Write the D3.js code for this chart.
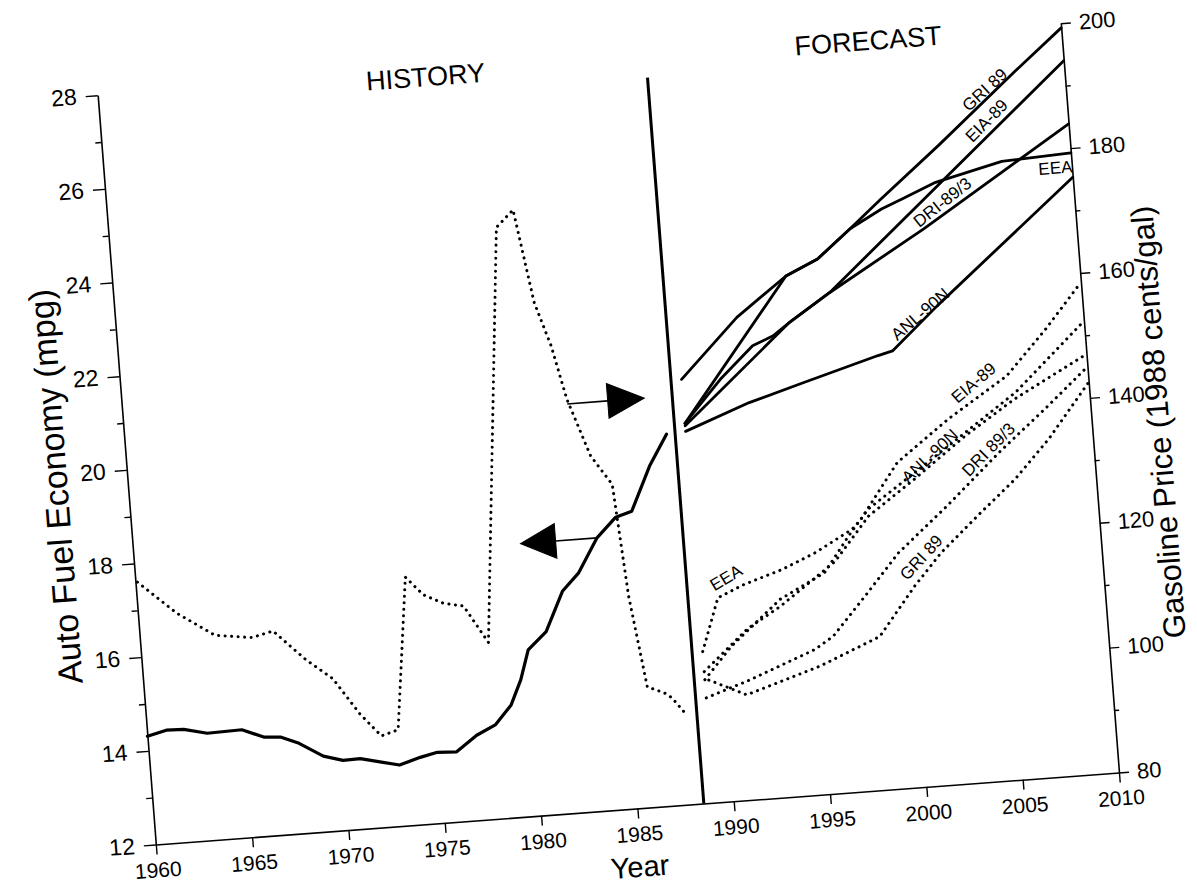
<!DOCTYPE html>
<html>
<head>
<meta charset="utf-8">
<script src="https://cdn.jsdelivr.net/npm/d3@7"></script>
<style>
  body { margin: 0; background: #fff; }
  svg text { font-family: "Liberation Sans", Arial, Helvetica, sans-serif; fill: #000; }
</style>
</head>
<body>
<svg id="chart" width="1197" height="884"></svg>
<script>
// ---------------------------------------------------------------
// DATA
// ---------------------------------------------------------------
const leftTicks  = [12, 14, 16, 18, 20, 22, 24, 26, 28];
const leftMinor  = [13, 15, 17, 19, 21, 23, 25, 27];
const rightTicks = [80, 100, 120, 140, 160, 180, 200];
const rightMinor = [90, 110, 130, 150, 170, 190];
const yearTicks  = [1960, 1965, 1970, 1975, 1980, 1985, 1990, 1995, 2000, 2005, 2010];

// history: auto fuel economy (mpg, left axis)
const historyMpg = [[1960,14.31],[1961,14.41],[1961.9,14.40],[1963.1,14.28],[1964.9,14.30],
  [1966,14.11],[1966.9,14.08],[1967.8,13.92],[1969,13.61],[1970,13.49],[1970.9,13.50],
  [1971.9,13.40],[1972.9,13.30],[1974,13.43],[1974.9,13.51],[1975.9,13.49],[1977,13.81],
  [1978,14.00],[1978.9,14.40],[1979.5,14.92],[1980,15.54],[1981,15.90],[1982,16.73],
  [1982.9,17.09],[1984,17.81],[1985.05,18.22],[1985.9,18.32],[1987,19.25],[1988,19.90]];

// history: gasoline price (1988 cents/gal, right axis)
const historyPrice = [[1960.1,122.0],[1962,116.6],[1963.9,112.6],[1965.8,111.8],[1966.9,112.6],
  [1968.5,107.6],[1969.8,104.3],[1971.05,98.4],[1972.08,94.6],[1972.97,95.4],[1973.95,119.6],
  [1974.8,116.6],[1975.8,115.0],[1976.84,114.3],[1977.98,108.2],[1980.05,174.2],[1980.98,176.8],
  [1981.7,161.8],[1982.4,154.7],[1983,146.0],[1984,136.7],[1985,131.9],[1985.4,113.9],
  [1985.9,101.7],[1986,99.2],[1986.34,98.8],[1986.9,98.0],[1987.23,97.2],[1987.78,94.9]];

// forecasts: fuel economy (mpg)
const gri89Mpg = [[1989,21.04],[1992.1,22.27],[1994.8,23.07],[1996.5,23.38],[1998.3,23.97],
  [2000,24.55],[2003.2,25.6],[2007.5,27.07],[2010,27.9]];
const eia89Mpg = [[1989,20.05],[1994.8,22.08],[1997,22.65],[2010,27.2]];
const dri89Mpg = [[1989,20.1],[1991,20.98],[1992.8,21.64],[1993.9,21.82],[1994.8,22.08],
  [1997,22.65],[2002.1,23.85],[2010,25.85]];
const eeaMpg = [[1989,20.1],[1994.8,23.07],[1996.5,23.38],[1998.3,23.97],[2000,24.34],
  [2001.1,24.52],[2002.9,24.82],[2006.4,25.16],[2010,25.23]];
const anlMpg = [[1989,19.93],[1992.4,20.44],[1995.3,20.78],[1999.2,21.23],[2000,21.31],
  [2002.5,22.2],[2010,24.71]];

// forecasts: gasoline price (cents/gal)
const eeaPrice = [[1989,104.2],[1990,112.6],[1991.4,114.4],[1993.4,116.3],[1995.2,118.6],
  [1997.2,121.9],[1997.7,123.4],[1999.8,132],[2002.6,138.3],[2005.8,144.5],[2008,151.5],[2010,158.5]];
const eiaPrice = [[1989,99.7],[1990.5,104.7],[1993.2,111.6],[1995.6,115.3],[1997,120.9],
  [1998.1,124.9],[1999.7,128.2],[2002.5,134.0],[2006.2,141.8],[2010,152.3]];
const anlPrice = [[1989,101.0],[1991.4,107.3],[1993.2,110.5],[1996.2,117.0],[1998.1,123.8],
  [2000.6,129.1],[2003.4,135.4],[2006.1,140.7],[2010,147]];
const driPrice = [[1989,96.8],[1991.2,99.0],[1994.8,103.2],[1995.8,105.1],[1997.6,111.1],
  [1999.5,117.6],[2002.2,124.5],[2005.1,132.4],[2007.8,139.2],[2010,145]];
const griPrice = [[1989.2,99.6],[1991.1,96.8],[1992.9,98.5],[1995,100.5],[1998.2,104.5],
  [2000.2,112.1],[2001.7,117.1],[2003.9,123.0],[2005.8,127.9],[2007.7,133.9],[2010,142.5]];

// labels: [text, year, value, angle]
const mpgLabels = [["GRI 89",2005.8,26.71,-38],["EIA-89",2005.77,26.05,-41],
  ["DRI-89/3",2003.16,24.39,-34],["EEA",2009.14,24.94,0],["ANL-90N",2001.57,22.05,-36]];
const priceLabels = [["EEA",1990.5,115.7,-27],["EIA-89",2004.05,143.8,-36],
  ["ANL-90N",2001.5,132.65,-39],["DRI 89/3",2004.55,133.0,-41],["GRI 89",2000.65,116.6,-43]];

const dividerYear = 1988.45;
const dividerTop = 27.5;
// arrows: [from, base, tip, mpg]
const arrowToPrice = [1983.0, 1985.1, 1987.0, 20.7];
const arrowToMpg = [1984.0, 1981.85, 1980.03, 17.81];
const arrowHalf = 0.37;

// ---------------------------------------------------------------
// CHART
// ---------------------------------------------------------------
const W = 963.15, H = 749.3;
const svg = d3.select("#chart");
// the scanned page is slightly rotated/skewed
const g = svg.append("g").attr("transform", "matrix(1,-0.07476,0.07761,1,97.65,95.2)");

const x  = d3.scaleLinear().domain([1960, 2010]).range([0, W]);
const yL = d3.scaleLinear().domain([12, 28]).range([H, 0]);
const yR = d3.scaleLinear().domain([80, 200]).range([H, 0]);

function styleAxis(sel, size) {
  sel.attr("font-family", null).attr("font-size", size);
  sel.select(".domain").attr("stroke", "#000").attr("stroke-width", 1.6);
  sel.selectAll(".tick line").attr("stroke", "#000").attr("stroke-width", 1.4);
  sel.selectAll(".tick text").attr("fill", "#000");
}

// left axis
g.append("g")
  .call(d3.axisLeft(yL).tickValues(leftMinor).tickSize(6).tickFormat(""))
  .call(s => { s.select(".domain").remove(); s.selectAll("line").attr("stroke-width", 1.4); });
g.append("g")
  .call(d3.axisLeft(yL).tickValues(leftTicks).tickSize(12).tickPadding(9).tickSizeOuter(0))
  .call(styleAxis, 23);

// right axis
g.append("g").attr("transform", `translate(${W},0)`)
  .call(d3.axisRight(yR).tickValues(rightMinor).tickSize(5).tickFormat(""))
  .call(s => { s.select(".domain").remove(); s.selectAll("line").attr("stroke-width", 1.4); });
g.append("g").attr("transform", `translate(${W},0)`)
  .call(d3.axisRight(yR).tickValues(rightTicks).tickSize(10).tickPadding(8).tickSizeOuter(0))
  .call(styleAxis, 22);

// bottom axis
g.append("g").attr("transform", `translate(0,${H})`)
  .call(d3.axisBottom(x).tickValues(yearTicks).tickSize(10).tickPadding(8).tickSizeOuter(0).tickFormat(d3.format("d")))
  .call(styleAxis, 21);

// titles
g.append("text").attr("transform", "translate(-72,386) rotate(-90)")
  .attr("text-anchor", "middle").attr("dy", "0.35em").attr("font-size", 34)
  .text("Auto Fuel Economy (mpg)");
g.append("text").attr("transform", `translate(${W + 66},404) rotate(-90)`)
  .attr("text-anchor", "middle").attr("dy", "0.35em").attr("font-size", 31)
  .text("Gasoline Price (1988 cents/gal)");
g.append("text").attr("x", x(1984.9)).attr("y", H + 58)
  .attr("text-anchor", "middle").attr("dy", "0.35em").attr("font-size", 29).text("Year");
g.append("text").attr("x", x(1977)).attr("y", 6)
  .attr("text-anchor", "middle").attr("dy", "0.35em").attr("font-size", 27).text("HISTORY");
g.append("text").attr("x", x(1999.98)).attr("y", 3)
  .attr("text-anchor", "middle").attr("dy", "0.35em").attr("font-size", 27).text("FORECAST");

const lineL = d3.line().x(d => x(d[0])).y(d => yL(d[1]));
const lineR = d3.line().x(d => x(d[0])).y(d => yR(d[1]));

// divider between history and forecast
g.append("path").attr("d", lineL([[dividerYear, 12], [dividerYear, dividerTop]]))
  .attr("stroke", "#000").attr("stroke-width", 3).attr("fill", "none");

// solid (mpg) lines
[historyMpg, gri89Mpg, eia89Mpg, dri89Mpg, eeaMpg, anlMpg].forEach((s, i) => {
  g.append("path").attr("d", lineL(s))
    .attr("fill", "none").attr("stroke", "#000")
    .attr("stroke-width", i === 0 ? 3.2 : 2.8)
    .attr("stroke-linejoin", "round").attr("stroke-linecap", "round");
});

// dotted (price) lines
[historyPrice, eeaPrice, eiaPrice, anlPrice, driPrice, griPrice].forEach(s => {
  g.append("path").attr("d", lineR(s))
    .attr("fill", "none").attr("stroke", "#000").attr("stroke-width", 3)
    .attr("stroke-dasharray", "0.1,6.4").attr("stroke-linecap", "round")
    .attr("stroke-linejoin", "round");
});

// arrows
function arrow(a) {
  const [from, base, tip, v] = a;
  g.append("path").attr("d", lineL([[from, v], [base, v]]))
    .attr("stroke", "#000").attr("stroke-width", 1.6).attr("fill", "none");
  g.append("path")
    .attr("d", lineL([[base, v - arrowHalf], [tip, v], [base, v + arrowHalf]]) + "Z")
    .attr("fill", "#000").attr("stroke", "#000").attr("stroke-width", 1);
}
arrow(arrowToPrice);
arrow(arrowToMpg);

// line labels
mpgLabels.forEach(([t, yr, v, a]) => {
  g.append("text").attr("transform", `translate(${x(yr)},${yL(v)}) rotate(${a})`)
    .attr("text-anchor", "middle").attr("dy", "0.35em").attr("font-size", 17).text(t);
});
priceLabels.forEach(([t, yr, v, a]) => {
  g.append("text").attr("transform", `translate(${x(yr)},${yR(v)}) rotate(${a})`)
    .attr("text-anchor", "middle").attr("dy", "0.35em").attr("font-size", 17).text(t);
});
</script>
</body>
</html>
